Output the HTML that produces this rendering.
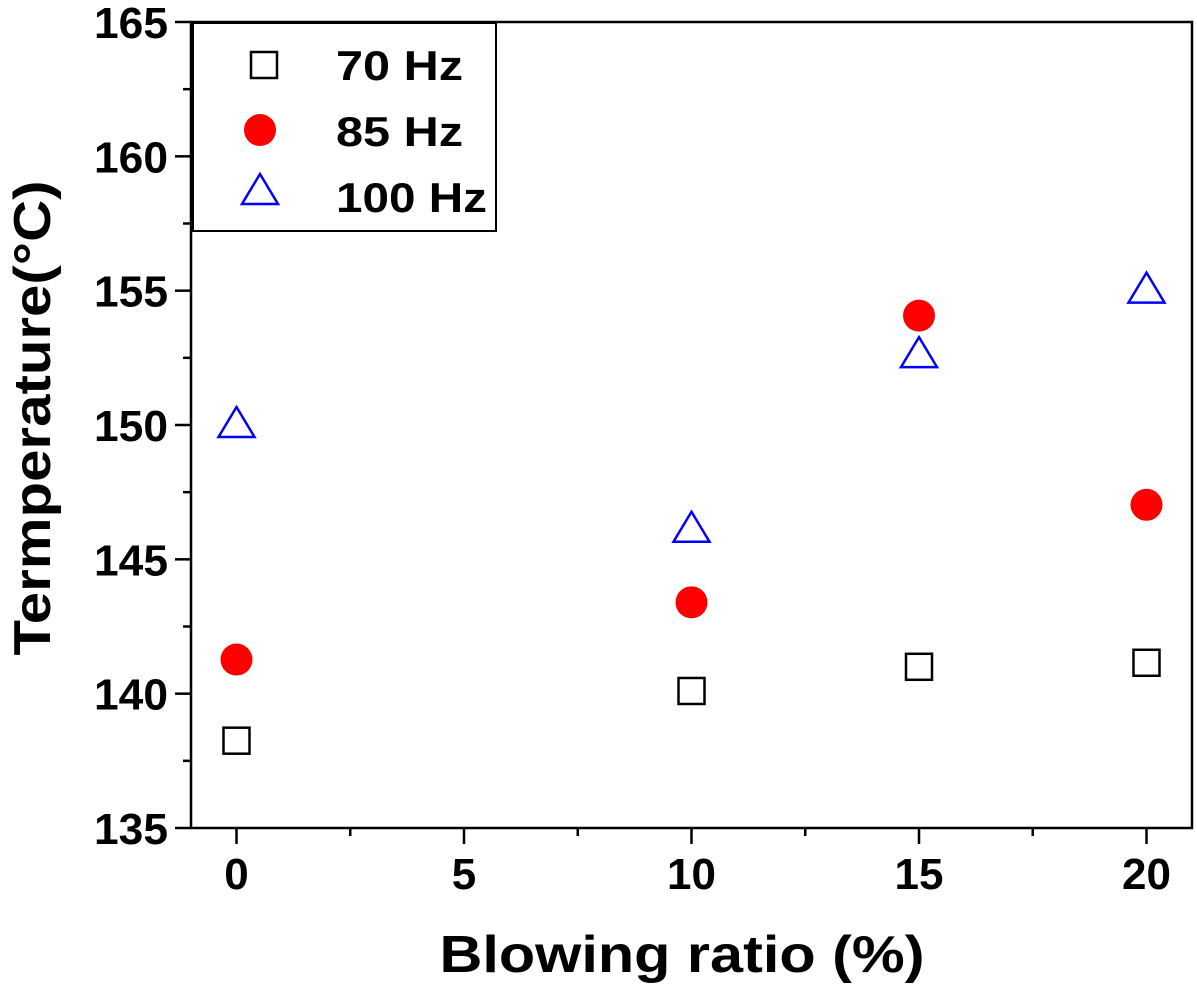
<!DOCTYPE html>
<html><head><meta charset="utf-8">
<style>
html,body{margin:0;padding:0;background:#fff;}
svg{display:block;font-family:"Liberation Sans","DejaVu Sans",sans-serif;font-weight:bold;}
</style></head>
<body>
<svg id="chart" width="1197" height="984" viewBox="0 0 1197 984" xmlns="http://www.w3.org/2000/svg">
</svg>
<script>
const xCategories = [0, 10, 15, 20];
const series70 = [138.25, 140.1, 141.0, 141.15];
const series85 = [141.27, 143.4, 154.07, 147.03];
const series100 = [150.0, 146.1, 152.6, 155.0];
const xTickLabels = ["0", "5", "10", "15", "20"];
const yTickLabels = ["135", "140", "145", "150", "155", "160", "165"];

const L=191, R=1192, T=22, B=828;
const xMin=-1, xMax=21, yMin=135, yMax=165;
function sx(v){return L+(v-xMin)/(xMax-xMin)*(R-L);}
function sy(v){return B-(v-yMin)/(yMax-yMin)*(B-T);}
const svg=document.getElementById('chart');
const NS='http://www.w3.org/2000/svg';
function mk(tag,attrs,parent){const e=document.createElementNS(NS,tag);for(const k in attrs)e.setAttribute(k,attrs[k]);(parent||svg).appendChild(e);return e;}

let f=mk('rect',{x:L,y:T,width:R-L,height:B-T,fill:'none',stroke:'#000','stroke-width':2.5});



xTickLabels.forEach(t=>{
  const v=parseFloat(t),x=sx(v);
  let l=mk('line',{x1:x,x2:x,y1:B,y2:B+16,stroke:'#000','stroke-width':2.5});
  
  
  let m=mk('line',{x1:sx(v+2.5),x2:sx(v+2.5),y1:B,y2:B+8,stroke:'#000','stroke-width':2.5});
  
  
  let tx=mk('text',{x:x,y:889,'text-anchor':'middle','font-size':44,fill:'#000'});
  tx.textContent=t;
  
  
});
yTickLabels.forEach(t=>{
  const v=parseFloat(t),y=sy(v);
  let l=mk('line',{x1:L-16,x2:L,y1:y,y2:y,stroke:'#000','stroke-width':2.5});
  
  
  if(v<yMax){
    let m=mk('line',{x1:L-8,x2:L,y1:sy(v+2.5),y2:sy(v+2.5),stroke:'#000','stroke-width':2.5});
    
    
  }
  let tx=mk('text',{x:168,y:y+16,'text-anchor':'end','font-size':44,fill:'#000',textLength:74,lengthAdjust:'spacingAndGlyphs'});
  tx.textContent=t;
  
  
});

let xt=mk('text',{x:682,y:972,'text-anchor':'middle','font-size':52,fill:'#000',textLength:485,lengthAdjust:'spacingAndGlyphs'});
xt.textContent='Blowing ratio (%)';


let yt=mk('text',{x:0,y:0,'text-anchor':'middle','font-size':52,fill:'#000',transform:'translate(50,418) rotate(-90)',textLength:475,lengthAdjust:'spacingAndGlyphs'});
yt.textContent='Termperature(°C)';



function square(x,y,name){let e=mk('rect',{x:x-13,y:y-13,width:26,height:26,fill:'none',stroke:'#000','stroke-width':2.5});}
function circle(x,y,name){let e=mk('circle',{cx:x,cy:y,r:16,fill:'#f00'});}
function tri(x,y,name){let e=mk('polygon',{points:`${x},${y-18} ${x+18},${y+12} ${x-18},${y+12}`,fill:'none',stroke:'#00f','stroke-width':2.5});}

xCategories.forEach((c,i)=>{
  square(sx(c),sy(series70[i]),'point-70hz');
  circle(sx(c),sy(series85[i]),'point-85hz');
  tri(sx(c),sy(series100[i]),'point-100hz');
});

let lg=mk('rect',{x:193,y:23,width:303,height:208,fill:'#fff',stroke:'#000','stroke-width':2});


square(264,65,'legend-marker-70hz');
circle(260,130,'legend-marker-85hz');
tri(260,192,'legend-marker-100hz');
[['70 Hz',80,127],['85 Hz',146,127],['100 Hz',212,151]].forEach(([t,y,w])=>{
  let e=mk('text',{x:336,y:y,'font-size':42,fill:'#000',textLength:w,lengthAdjust:'spacingAndGlyphs'});
  e.textContent=t;
  
  
});
</script>
</body></html>
